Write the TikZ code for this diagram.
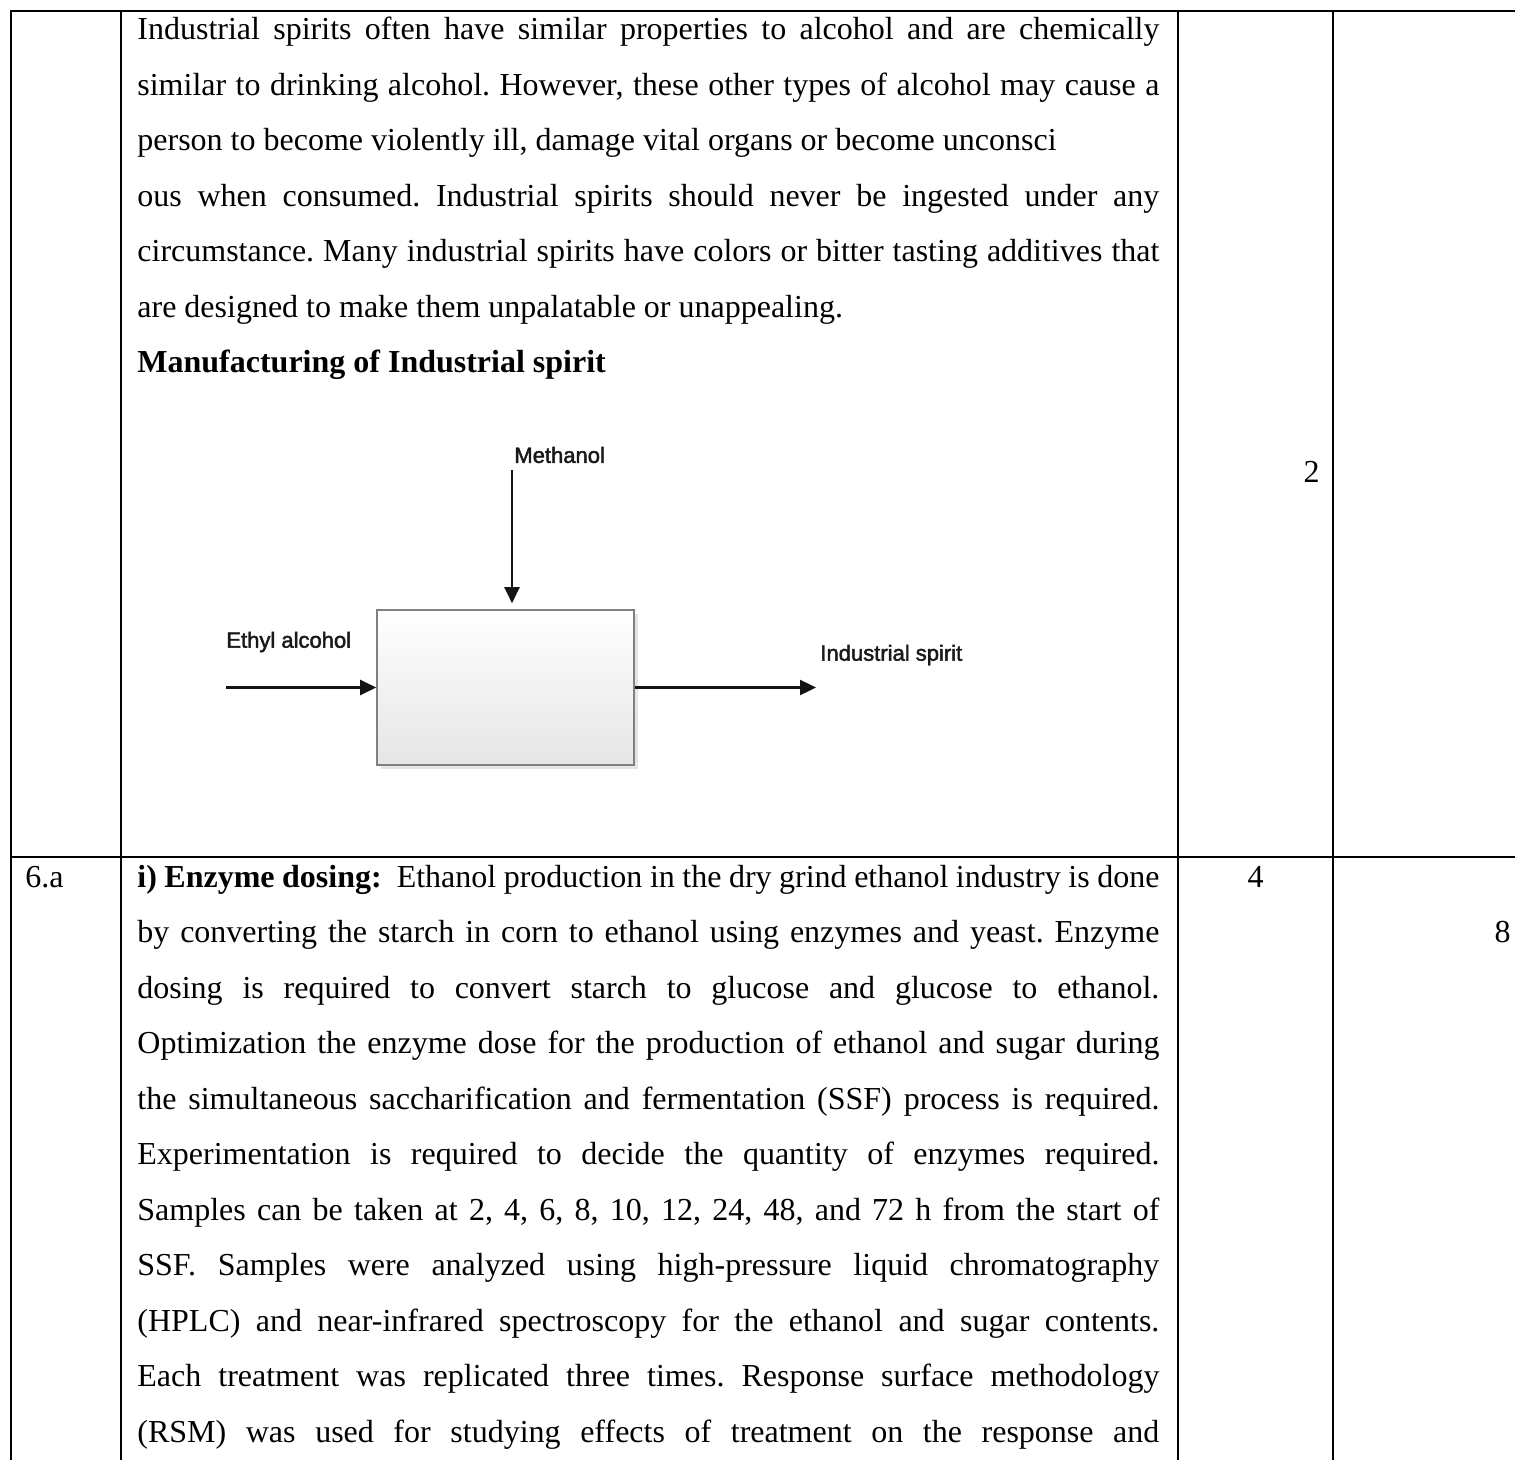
\documentclass[tikz,border=0pt]{standalone}
\usepackage{fontspec}
\setmainfont[Ligatures=NoCommon]{Liberation Serif}
\newfontfamily\diagfont[FakeBold=2]{Liberation Sans}
\usetikzlibrary{arrows.meta}
\newcommand{\jline}[1]{\makebox[511pt][s]{#1}}
\frenchspacing
\begin{document}
\begin{tikzpicture}[x=0.5pt,y=-0.5pt,
  grid/.style={line width=1.3pt, black},
  txt/.style={anchor=base west, inner sep=0pt, font=\fontsize{16}{19}\selectfont},
  num/.style={anchor=base, inner sep=0pt, font=\fontsize{16}{19}\selectfont},
  dlabel/.style={inner sep=0pt, text=black!90, font=\diagfont\fontsize{11}{13}\selectfont},
  flow/.style={line width=1.2pt, black!92, -{Triangle[length=8pt,width=7.5pt]}},
  procbox/.style={draw=black!50, line width=0.8pt, top color=white, bottom color=black!10, minimum width=128.5pt, minimum height=77.5pt, inner sep=0pt}
]
\useasboundingbox (0,0) rectangle (1515,1460);
\fill[white] (0,0) rectangle (1515,1460);

% table rules
\draw[grid] (11,1460) -- (11,11) -- (1515,11);
\draw[grid] (11,857) -- (1515,857);
\draw[grid] (121,11) -- (121,1460);
\draw[grid] (1178,11) -- (1178,1460);
\draw[grid] (1333,11) -- (1333,1460);

% row 1 text
\node[txt] (a1) at (137,40) {\jline{Industrial spirits often have similar properties to alcohol and are chemically}};
\node[txt] (a2) at (137,95.5) {\jline{similar to drinking alcohol. However, these other types of alcohol may cause a}};
\node[txt] (a3) at (137,151) {person to become violently ill, damage vital organs or become unconsci};
\node[txt] (a4) at (137,206.5) {\jline{ous when consumed. Industrial spirits should never be ingested under any}};
\node[txt] (a5) at (137,262) {\jline{circumstance. Many industrial spirits have colors or bitter tasting additives that}};
\node[txt] (a6) at (137,317.5) {are designed to make them unpalatable or unappealing.};
\node[txt] (a7) at (137,373) {\bfseries Manufacturing of Industrial spirit};

% diagram
\fill[black!10] (381,614) rectangle (638,769);
\node[procbox] (box) at (505.5,687.5) {};
\node[dlabel, anchor=west] (meth) at (514,455) {Methanol};
\node[dlabel, anchor=west] (ethyl) at (226,642) {Ethyl alcohol};
\node[dlabel, anchor=west] (indsp) at (820,655) {Industrial spirit};
\coordinate (mstart) at (512,470);
\coordinate (estart) at (226,687.5);
\coordinate (oend) at (816,687.5);
\draw[flow] (mstart) -- ([yshift=3pt]box.north -| mstart);
\draw[flow] (estart) -- (box.west);
\draw[flow] (box.east) -- (oend);

% marks
\node[num, anchor=base east] (m2) at (1320,482) {2};
\node[num, anchor=base west] (lab6a) at (25,887) {6.a};
\node[num] (m4) at (1255.5,887) {4};
\node[num, anchor=base east] (m8) at (1511,942) {8};

% row 2 text
\node[txt] (b1) at (137,887) {\jline{\textbf{i) Enzyme dosing:}~ Ethanol production in the dry grind ethanol industry is done}};
\node[txt] (b2) at (137,942.5) {\jline{by converting the starch in corn to ethanol using enzymes and yeast. Enzyme}};
\node[txt] (b3) at (137,998) {\jline{dosing is required to convert starch to glucose and glucose to ethanol.}};
\node[txt] (b4) at (137,1053.5) {\jline{Optimization the enzyme dose for the production of ethanol and sugar during}};
\node[txt] (b5) at (137,1109) {\jline{the simultaneous saccharification and fermentation (SSF) process is required.}};
\node[txt] (b6) at (137,1164.5) {\jline{Experimentation is required to decide the quantity of enzymes required.}};
\node[txt] (b7) at (137,1220) {\jline{Samples can be taken at 2, 4, 6, 8, 10, 12, 24, 48, and 72 h from the start of}};
\node[txt] (b8) at (137,1275.5) {\jline{SSF. Samples were analyzed using high-pressure liquid chromatography}};
\node[txt] (b9) at (137,1331) {\jline{(HPLC) and near-infrared spectroscopy for the ethanol and sugar contents.}};
\node[txt] (b10) at (137,1386.5) {\jline{Each treatment was replicated three times. Response surface methodology}};
\node[txt] (b11) at (137,1442) {\jline{(RSM) was used for studying effects of treatment on the response and}};
\end{tikzpicture}
\end{document}
